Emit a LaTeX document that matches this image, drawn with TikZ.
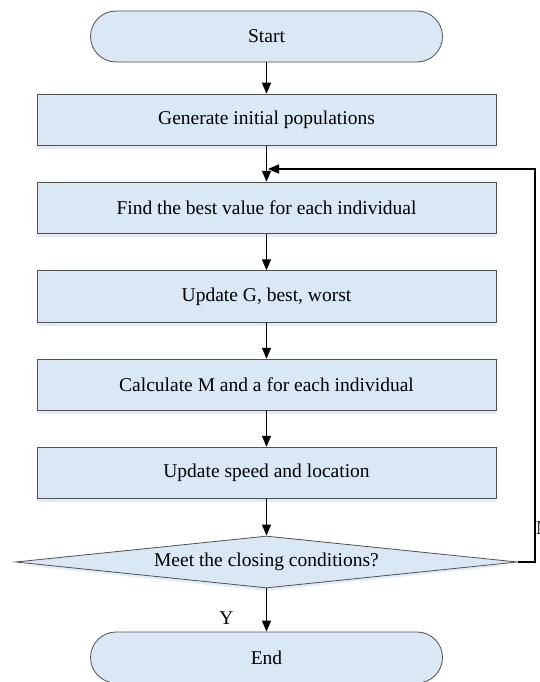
\documentclass[tikz,border=0pt]{standalone}
\usepackage{fontspec}
\setmainfont{Liberation Serif}
\usetikzlibrary{shapes.geometric,arrows.meta}
\definecolor{boxfill}{HTML}{DAE7F4}
\definecolor{boxline}{HTML}{505050}
\definecolor{boxshade}{HTML}{E2EDF8}
\tikzset{
  every node/.style={font=\fontsize{19.5}{22}\selectfont},
  procbox/.style={draw=boxline, fill=boxfill, line width=1pt, rectangle,
    minimum width=459pt, minimum height=51.5pt, inner sep=0pt},
  termbox/.style={draw=boxline, fill=boxfill, line width=0.8pt, rectangle,
    rounded corners=25.5pt, minimum width=352pt, minimum height=51pt, inner sep=0pt},
  decbox/.style={draw=boxline, fill=boxfill, line width=0.8pt, diamond, aspect=9.65,
    minimum width=502pt, minimum height=52pt, inner sep=0pt},
  flow/.style={draw=black, line width=1.3pt, -{Triangle[length=11pt,width=9pt]}},
  plain/.style={inner sep=0pt}
}
\begin{document}
\begin{tikzpicture}[x=1pt, y=-1pt]
\useasboundingbox (0,0) rectangle (540,682);
% soft shading under the boxes
\foreach \yc in {120,208,296.5,385,473}
  \fill[boxshade] (37,\yc+26) rectangle (496,\yc+29);
\fill[boxshade] (20,565) -- (266.5,591) -- (512,565) -- cycle;

\node[termbox] (start) at (266.5,36.5) {Start};
\node[procbox] (gen)   at (266.5,120)  {Generate initial populations};
\node[procbox] (find)  at (266.5,208)  {Find the best value for each individual};
\node[procbox] (upd)   at (266.5,296.5){Update G, best, worst};
\node[procbox] (calc)  at (266.5,385)  {Calculate M and a for each individual};
\node[procbox] (speed) at (266.5,473)  {Update speed and location};
\node[decbox]  (cond)  at (266.5,562)  {Meet the closing conditions?};
\node[termbox] (end)   at (266.5,657.5){End};

\draw[flow] (start) -- (gen);
\draw[flow] (gen) -- (find);
\draw[flow] (find) -- (upd);
\draw[flow] (upd) -- (calc);
\draw[flow] (calc) -- (speed);
\draw[flow] (speed) -- (cond);
\draw[flow] (cond) -- (end);

% loop back when the conditions are not met
\coordinate (ret) at (268,169);
\draw[flow] (cond.east) -- (535,562) -- (535,169) -- (ret);

\node[plain] (ylab) at (226.5,618.5) {Y};
\node[plain, anchor=base west] (nlab) at (536,534) {N};
\end{tikzpicture}
\end{document}
